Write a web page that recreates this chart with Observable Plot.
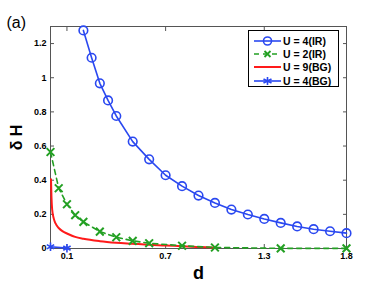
<!DOCTYPE html>
<html><head><meta charset="utf-8">
<script src="https://cdn.jsdelivr.net/npm/d3@7"></script>
<script src="https://cdn.jsdelivr.net/npm/@observablehq/plot@0.6"></script>
<style>
body{margin:0;background:#fff;}
#wrap{position:relative;width:382px;height:287px;font-family:"Liberation Sans",Arial,sans-serif;}
#legend{position:absolute;left:248px;top:30px;width:91px;height:57px;border:1px solid #000;background:#fff;box-sizing:border-box;padding-top:3px;}
.row{display:flex;align-items:center;height:13.3px;font-weight:bold;font-size:10.5px;color:#000;}
.row svg{margin-left:5px;margin-right:2px;}
</style></head>
<body><div id="wrap"><div id="legend"></div></div>
<script>
const blue = "#2a48f0", green = "#23a023", red = "#ff1a1a";
// U = 4 (IR)
const ir4D = [0.2,0.25,0.3,0.35,0.4,0.5,0.6,0.7,0.8,0.9,1.0,1.1,1.2,1.3,1.4,1.5,1.6,1.7,1.8];
const ir4H = [1.277,1.117,0.967,0.867,0.776,0.626,0.522,0.429,0.365,0.310,0.267,0.228,0.199,0.173,0.150,0.129,0.113,0.101,0.090];
// U = 2 (IR)
const ir2D = [0.0,0.05,0.1,0.15,0.2,0.3,0.4,0.5,0.6,0.8,1.0,1.4,1.8];
const ir2H = [0.565,0.353,0.259,0.195,0.156,0.099,0.066,0.045,0.031,0.016,0.006,0.001,0.001];
// U = 9 (BG)
const bg9D = [0.003,0.006,0.01,0.02,0.03,0.05,0.075,0.1,0.15,0.2,0.3,0.4,0.5,0.6,0.7,0.8,0.9,1.0];
const bg9H = [0.405,0.30,0.23,0.175,0.148,0.12,0.10,0.088,0.068,0.057,0.043,0.034,0.028,0.022,0.018,0.013,0.009,0.005];
// U = 4 (BG)
const bg4D = [0.0,0.1];
const bg4H = [0.01,0.002];
const xTicks = [0.1,0.7,1.3,1.8];
const yTicks = [0,0.2,0.4,0.6,0.8,1,1.2];
const legendLabels = ["U = 4(IR)","U = 2(IR)","U = 9(BG)","U = 4(BG)"];

const ir4 = ir4D.map((d,i)=>({d,h:ir4H[i]}));
const ir2 = ir2D.map((d,i)=>({d,h:ir2H[i]}));
const bg9 = bg9D.map((d,i)=>({d,h:bg9H[i]}));
const bg4 = bg4D.map((d,i)=>({d,h:bg4H[i]}));

const font = "Liberation Sans, Arial, sans-serif";
const chart = Plot.plot({
  width: 382, height: 287,
  marginLeft: 50, marginRight: 36, marginTop: 26, marginBottom: 39,
  style: {fontFamily: font, background: "#fff", overflow: "visible"},
  x: {domain: [0, 1.8]},
  y: {domain: [0, 1.3]},
  marks: [
    Plot.axisX({anchor:"bottom", ticks: xTicks, tickFormat: d=>d.toFixed(1), tickSize: -4, tickPadding: 8, label: null, fontSize: 9, fontWeight: "bold", stroke: "#555"}),
    Plot.axisX({anchor:"top", ticks: xTicks, tickSize: -4, tickFormat: ()=>"", label: null, stroke: "#555"}),
    Plot.axisY({anchor:"left", ticks: yTicks, tickFormat: d=>String(d), tickSize: -4, tickPadding: 8, label: null, fontSize: 9, fontWeight: "bold", stroke: "#555"}),
    Plot.axisY({anchor:"right", ticks: yTicks, tickSize: -4, tickFormat: ()=>"", label: null, stroke: "#555"}),
    Plot.frame({stroke: "#555", strokeWidth: 1}),
    Plot.line(bg9, {x:"d", y:"h", stroke: red, strokeWidth: 2, curve: "monotone-x"}),
    Plot.line(ir2, {x:"d", y:"h", stroke: green, strokeWidth: 1.6, strokeDasharray: "5,4"}),
    Plot.dot(ir2, {x:"d", y:"h", symbol:"times", r: 3.6, stroke: green, strokeWidth: 2}),
    Plot.line(ir4, {x:"d", y:"h", stroke: blue, strokeWidth: 1.6}),
    Plot.dot(ir4, {x:"d", y:"h", symbol:"circle", r: 4.3, fill:"none", stroke: blue, strokeWidth: 1.6}),
    Plot.line(bg4, {x:"d", y:"h", stroke: blue, strokeWidth: 1.6}),
    Plot.dot(bg4, {x:"d", y:"h", symbol:"asterisk", r: 4, stroke: blue, strokeWidth: 1.6}),
    Plot.text(["δ H"], {frameAnchor:"left", dx:-34, rotate:-90, fontSize:16, fontWeight:"bold", textAnchor:"middle", lineAnchor:"middle", fill:"#000"}),
    Plot.text(["d"], {frameAnchor:"bottom", dy:25, fontSize:18, fontWeight:"bold", textAnchor:"middle", lineAnchor:"middle", fill:"#000"}),
    Plot.text(["(a)"], {frameAnchor:"top-left", dx:-44, dy:-4, fontSize:16, textAnchor:"start", lineAnchor:"middle", fill:"#000"})
  ]
});
document.getElementById("wrap").prepend(chart);

const leg = document.getElementById("legend");
const samples = [
  `<line x1="0" y1="5" x2="27" y2="5" stroke="${blue}" stroke-width="1.6"/><circle cx="13.5" cy="5" r="4" fill="none" stroke="${blue}" stroke-width="1.6"/>`,
  `<line x1="0" y1="5" x2="27" y2="5" stroke="${green}" stroke-width="1.6" stroke-dasharray="5,4"/><path d="M10.5,2L16.5,8M16.5,2L10.5,8" stroke="${green}" stroke-width="1.8"/>`,
  `<line x1="0" y1="5" x2="27" y2="5" stroke="${red}" stroke-width="2"/>`,
  `<line x1="0" y1="5" x2="27" y2="5" stroke="${blue}" stroke-width="1.6"/><path d="M13.5,1V9M9.5,3L17.5,7M9.5,7L17.5,3" stroke="${blue}" stroke-width="1.6"/>`
];
legendLabels.forEach((t,i)=>{
  const row = document.createElement("div");
  row.className = "row";
  row.innerHTML = `<svg width="27" height="10">${samples[i]}</svg><span>${t}</span>`;
  leg.appendChild(row);
});
</script></body></html>
